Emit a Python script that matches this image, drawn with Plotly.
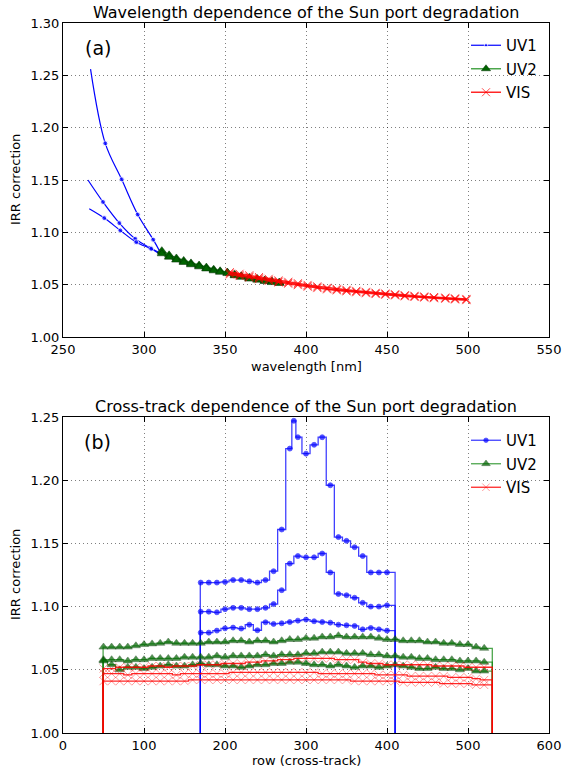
import plotly.graph_objects as go

# ---------------- data: panel (a) wavelength dependence ----------------
UV1_A_WL = [267.0, 276.1, 286.2, 296.1, 305.7, 310.0]
UV1_A = [1.256, 1.185, 1.1506, 1.117, 1.093, 1.081]
UV1_B_WL = [265.4, 274.7, 284.8, 294.6, 303.7, 309.0]
UV1_B = [1.150, 1.129, 1.1088, 1.0938, 1.0852, 1.081]
UV1_C_WL = [266.2, 275.5, 285.4, 295.2, 304.5, 309.0]
UV1_C = [1.1225, 1.1136, 1.1018, 1.0906, 1.0842, 1.080]

UV2_WL = [311, 315.5, 320, 324.5, 329, 334, 338.5, 343, 347, 351.5, 356, 360, 365, 370, 374.5, 379, 383.5]
UV2_A = [1.081, 1.077, 1.074, 1.072, 1.070, 1.068, 1.0655, 1.064, 1.0625, 1.0615, 1.059, 1.0578, 1.056, 1.055, 1.0538, 1.0528, 1.0518]
UV2_B = [1.0825, 1.0785, 1.0755, 1.0732, 1.0708, 1.0688, 1.0668, 1.0648, 1.0633, 1.0620, 1.0600, 1.0585, 1.0570, 1.0558, 1.0545, 1.0535, 1.0525]
UV2_C = [1.0795, 1.0762, 1.0735, 1.0712, 1.0690, 1.0670, 1.0650, 1.0632, 1.0618, 1.0606, 1.0585, 1.0570, 1.0553, 1.0543, 1.0530, 1.0520, 1.0512]

VIS_WL = [353, 359, 365, 371, 377, 383, 389, 395, 401, 407, 413, 419, 425, 431, 437, 443, 449, 455, 461, 467, 473, 479, 486, 492, 499]
VIS_A = [1.0608, 1.0592, 1.0578, 1.0562, 1.0545, 1.0530, 1.0518, 1.0504, 1.0488, 1.0475, 1.0462, 1.0452, 1.0443, 1.0434, 1.0425, 1.0416, 1.0409, 1.0403, 1.0394, 1.0388, 1.0382, 1.0376, 1.0371, 1.0364, 1.0358]
VIS_B = [1.0620, 1.0604, 1.0590, 1.0573, 1.0556, 1.0541, 1.0528, 1.0514, 1.0498, 1.0484, 1.0471, 1.0460, 1.0451, 1.0441, 1.0432, 1.0423, 1.0416, 1.0409, 1.0400, 1.0394, 1.0388, 1.0382, 1.0377, 1.0370, 1.0364]
VIS_C = [1.0598, 1.0582, 1.0568, 1.0552, 1.0536, 1.0521, 1.0509, 1.0495, 1.0480, 1.0467, 1.0455, 1.0445, 1.0436, 1.0427, 1.0418, 1.0410, 1.0403, 1.0397, 1.0388, 1.0382, 1.0376, 1.0370, 1.0365, 1.0358, 1.0352]

# ---------------- data: panel (b) cross-track dependence ----------------
UV1_ROWS_TOP = [170, 180, 190, 200, 210, 220, 230, 240, 250, 260, 270, 280, 285, 290, 300, 310, 320, 330, 340, 350, 360, 370, 380, 390, 400]
UV1_TOP = [1.119, 1.119, 1.119, 1.1195, 1.121, 1.121, 1.120, 1.119, 1.121, 1.128, 1.161, 1.225, 1.247, 1.234, 1.221, 1.228, 1.234, 1.196, 1.155, 1.152, 1.147, 1.140, 1.127, 1.127, 1.127]
UV1_ROWS = [170, 180, 190, 200, 210, 220, 230, 240, 250, 260, 270, 280, 290, 300, 310, 320, 330, 340, 350, 360, 370, 380, 390, 400]
UV1_MID = [1.096, 1.096, 1.0955, 1.098, 1.099, 1.099, 1.098, 1.098, 1.099, 1.102, 1.113, 1.134, 1.140, 1.139, 1.139, 1.142, 1.127, 1.110, 1.109, 1.107, 1.103, 1.100, 1.100, 1.101]
UV1_LOW = [1.0794, 1.0794, 1.081, 1.0828, 1.0834, 1.0826, 1.0857, 1.0813, 1.0876, 1.0863, 1.0868, 1.0878, 1.0889, 1.0897, 1.0884, 1.0878, 1.0873, 1.0857, 1.0852, 1.0847, 1.0820, 1.0831, 1.0820, 1.0810]

ROWS = [50, 60, 70, 80, 90, 100, 110, 120, 130, 140, 150, 160, 170, 180, 190, 200, 210, 220, 230, 240,
        250, 260, 270, 280, 290, 300, 310, 320, 330, 340, 350, 360, 370, 380, 390, 400, 410, 420, 430, 440,
        450, 460, 470, 480, 490, 500, 510, 520]
UV2_TOP = [1.068, 1.068, 1.068, 1.068, 1.069, 1.070, 1.0705, 1.071, 1.072, 1.071, 1.071, 1.071, 1.071, 1.072, 1.072, 1.072, 1.073, 1.073, 1.072, 1.073,
           1.073, 1.072, 1.073, 1.074, 1.074, 1.075, 1.075, 1.076, 1.076, 1.077, 1.076, 1.076, 1.076, 1.076, 1.075, 1.074, 1.074, 1.073, 1.073, 1.073,
           1.072, 1.072, 1.071, 1.071, 1.070, 1.070, 1.068, 1.067]
UV2_MID = [1.058, 1.058, 1.058, 1.057, 1.058, 1.058, 1.059, 1.059, 1.059, 1.059, 1.060, 1.060, 1.060, 1.060, 1.061, 1.060, 1.061, 1.061, 1.061, 1.061,
           1.062, 1.061, 1.062, 1.062, 1.062, 1.063, 1.063, 1.064, 1.064, 1.064, 1.063, 1.063, 1.063, 1.062, 1.062, 1.061, 1.061, 1.060, 1.060, 1.059,
           1.059, 1.058, 1.058, 1.058, 1.057, 1.057, 1.057, 1.056]
UV2_LOW = [1.057, 1.054, 1.050, 1.052, 1.052, 1.051, 1.052, 1.053, 1.054, 1.053, 1.053, 1.054, 1.055, 1.054, 1.054, 1.053, 1.053, 1.052, 1.053, 1.054,
           1.054, 1.055, 1.055, 1.056, 1.056, 1.055, 1.054, 1.054, 1.053, 1.054, 1.053, 1.052, 1.053, 1.053, 1.052, 1.053, 1.054, 1.053, 1.052, 1.051,
           1.051, 1.052, 1.051, 1.051, 1.050, 1.051, 1.049, 1.049]
VIS_UP = [1.051, 1.051, 1.052, 1.052, 1.052, 1.052, 1.053, 1.053, 1.052, 1.053, 1.053, 1.053, 1.054, 1.054, 1.054, 1.055, 1.055, 1.055, 1.056, 1.056,
          1.057, 1.057, 1.058, 1.058, 1.059, 1.059, 1.059, 1.059, 1.059, 1.058, 1.058, 1.058, 1.056, 1.055, 1.055, 1.054, 1.054, 1.054, 1.054, 1.054,
          1.054, 1.053, 1.053, 1.053, 1.053, 1.052, 1.052, 1.052]
VIS_MID = [1.047, 1.047, 1.047, 1.046, 1.047, 1.047, 1.047, 1.047, 1.047, 1.046, 1.047, 1.047, 1.047, 1.047, 1.047, 1.047, 1.048, 1.048, 1.048, 1.048,
           1.048, 1.048, 1.048, 1.048, 1.048, 1.048, 1.048, 1.047, 1.047, 1.047, 1.047, 1.047, 1.047, 1.047, 1.046, 1.046, 1.046, 1.046, 1.045, 1.045,
           1.045, 1.045, 1.045, 1.044, 1.044, 1.044, 1.043, 1.042]
VIS_LOW = [1.041, 1.041, 1.041, 1.041, 1.041, 1.041, 1.041, 1.041, 1.041, 1.041, 1.041, 1.042, 1.042, 1.042, 1.042, 1.042, 1.042, 1.042, 1.042, 1.042,
           1.042, 1.042, 1.042, 1.042, 1.042, 1.042, 1.042, 1.042, 1.042, 1.042, 1.042, 1.041, 1.041, 1.041, 1.041, 1.041, 1.041, 1.040, 1.040, 1.040,
           1.040, 1.040, 1.039, 1.039, 1.039, 1.039, 1.038, 1.038]

UV1_EDGES = (169, 410)
FULL_EDGES = (49, 530)
BELOW = 0.9  # value outside the swath (drawn below the axis range)

# ---------------- layout geometry ----------------
W, H = 563, 770
L, R, T, B = 63, 14, 23, 37


def fx(px):
    return (px - L) / (W - L - R)


def fy(py):
    return (H - B - py) / (H - T - B)


BLUE_LINE = "rgba(0,0,255,0.75)"
GREEN_LINE = "rgba(0,128,0,0.7)"
RED_LINE = "rgba(255,0,0,0.85)"
FONT = "DejaVu Sans"

fig = go.Figure()


# ---- panel (a)
def uv1_top(xs, ys, show):
    sizes = [0] + [5] * (len(xs) - 2) + [0]
    fig.add_trace(go.Scatter(x=xs, y=ys, mode="lines+markers", line=dict(color="blue", width=1.2, shape="spline", smoothing=1.0),
                             marker=dict(symbol="circle", size=sizes, color="blue"), name="UV1", showlegend=show,
                             legend="legend", legendgroup="a1", xaxis="x", yaxis="y"))


uv1_top(UV1_A_WL, UV1_A, True)
uv1_top(UV1_B_WL, UV1_B, False)
uv1_top(UV1_C_WL, UV1_C, False)

for i, ys in enumerate([UV2_A, UV2_B, UV2_C]):
    fig.add_trace(go.Scatter(x=UV2_WL, y=ys, mode="lines+markers", line=dict(color=GREEN_LINE, width=1.5),
                             marker=dict(symbol="triangle-up", size=8, color="#006400", line=dict(color="#003000", width=0.5)),
                             name="UV2", showlegend=(i == 0), legend="legend", legendgroup="a2", xaxis="x", yaxis="y"))

for i, ys in enumerate([VIS_A, VIS_B, VIS_C]):
    fig.add_trace(go.Scatter(x=VIS_WL, y=ys, mode="lines+markers", line=dict(color=RED_LINE, width=1.5),
                             marker=dict(symbol="x-thin", size=8, line=dict(color="rgba(255,0,0,0.7)", width=1)),
                             name="VIS", showlegend=(i == 0), legend="legend", legendgroup="a3", xaxis="x", yaxis="y"))


# ---- panel (b)
def step_trace(rows, vals, edges, name, show, group, line_color, marker):
    xs = [edges[0]] + list(rows) + [edges[1], edges[1]]
    ys = [BELOW] + list(vals) + [vals[-1], BELOW]
    base = marker.get("size", 6)
    sizes = [0] + [base] * len(rows) + [0, 0]
    m = dict(marker)
    m["size"] = sizes
    fig.add_trace(go.Scatter(x=xs, y=ys, mode="lines+markers", line=dict(color=line_color, width=1.3, shape="hvh"),
                             marker=m, name=name, showlegend=show, legend="legend2", legendgroup=group,
                             xaxis="x2", yaxis="y2"))


blue_m = dict(symbol="circle", size=5, color="blue")
step_trace(UV1_ROWS_TOP, UV1_TOP, UV1_EDGES, "UV1", True, "b1", BLUE_LINE, blue_m)
step_trace(UV1_ROWS, UV1_MID, UV1_EDGES, "UV1", False, "b1", BLUE_LINE, blue_m)
step_trace(UV1_ROWS, UV1_LOW, UV1_EDGES, "UV1", False, "b1", BLUE_LINE, blue_m)

green_m = dict(symbol="triangle-up", size=8, color="#006400", line=dict(color="#003000", width=0.5))
step_trace(ROWS, UV2_TOP, FULL_EDGES, "UV2", True, "b2", GREEN_LINE, green_m)
step_trace(ROWS, UV2_MID, FULL_EDGES, "UV2", False, "b2", GREEN_LINE, green_m)
step_trace(ROWS, UV2_LOW, FULL_EDGES, "UV2", False, "b2", GREEN_LINE, green_m)

red_m = dict(symbol="x-thin", size=8, line=dict(color="rgba(255,0,0,0.55)", width=1))
step_trace(ROWS, VIS_UP, FULL_EDGES, "VIS", True, "b3", RED_LINE, red_m)
step_trace(ROWS, VIS_MID, FULL_EDGES, "VIS", False, "b3", RED_LINE, red_m)
step_trace(ROWS, VIS_LOW, FULL_EDGES, "VIS", False, "b3", RED_LINE, red_m)

axis_common = dict(showline=True, linecolor="black", linewidth=1, mirror="allticks", ticks="inside", ticklen=5,
                   tickcolor="black", showgrid=True, gridcolor="rgba(0,0,0,0.5)", griddash="1px,3px", gridwidth=1,
                   zeroline=False, tickfont=dict(family=FONT, size=13, color="black"))

top_dom = [fy(337), 1.0]
bot_dom = [0.0, fy(417)]

leg_common = dict(xanchor="left", yanchor="top", bgcolor="rgba(0,0,0,0)", borderwidth=0,
                  font=dict(family=FONT, size=15, color="black"), traceorder="grouped", tracegroupgap=1, itemwidth=30)

fig.update_layout(
    width=W, height=H, margin=dict(l=L, r=R, t=T, b=B, autoexpand=False),
    paper_bgcolor="white", plot_bgcolor="white",
    font=dict(family=FONT, color="black"),
    xaxis=dict(axis_common, domain=[0, 1], anchor="y", range=[250, 550], tickvals=[250, 300, 350, 400, 450, 500, 550]),
    yaxis=dict(axis_common, domain=top_dom, anchor="x", range=[1.0, 1.3], tickvals=[1.0, 1.05, 1.1, 1.15, 1.2, 1.25, 1.3], tickformat=".2f"),
    xaxis2=dict(axis_common, domain=[0, 1], anchor="y2", range=[0, 600], tickvals=[0, 100, 200, 300, 400, 500, 600]),
    yaxis2=dict(axis_common, domain=bot_dom, anchor="x2", range=[1.0, 1.25], tickvals=[1.0, 1.05, 1.1, 1.15, 1.2, 1.25], tickformat=".2f"),
    legend=dict(leg_common, x=fx(466), y=fy(29)),
    legend2=dict(leg_common, x=fx(466), y=fy(424)),
    showlegend=True,
)

ann = [
    dict(text="Wavelength dependence of the Sun port degradation", x=fx(306), y=fy(12), size=16),
    dict(text="Cross-track dependence of the Sun port degradation", x=fx(306), y=fy(407), size=16),
    dict(text="wavelength [nm]", x=fx(306), y=fy(366), size=13),
    dict(text="row (cross-track)", x=fx(306), y=fy(760), size=13),
    dict(text="IRR correction", x=fx(15), y=fy(180), size=13, angle=-90),
    dict(text="IRR correction", x=fx(15), y=fy(575), size=13, angle=-90),
    dict(text="(a)", x=fx(98), y=fy(48), size=19),
    dict(text="(b)", x=fx(97), y=fy(442), size=19),
]
for a in ann:
    fig.add_annotation(text=a["text"], x=a["x"], y=a["y"], xref="paper", yref="paper", xanchor="center", yanchor="middle",
                       showarrow=False, textangle=a.get("angle", 0), font=dict(family=FONT, size=a["size"], color="black"))

fig.write_html("out.html")
